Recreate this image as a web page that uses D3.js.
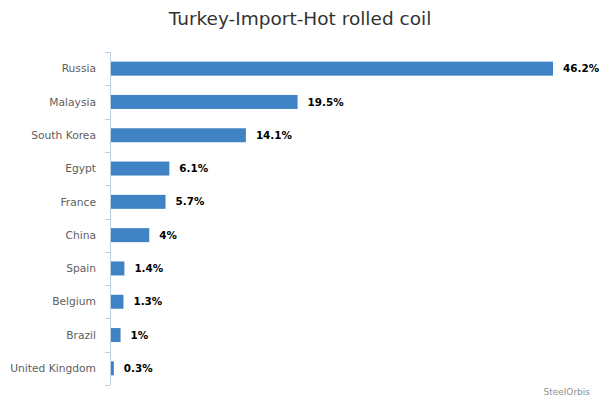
<!DOCTYPE html>
<html>
<head>
<meta charset="utf-8">
<script src="https://cdn.jsdelivr.net/npm/d3@7"></script>
<style>
  body { margin: 0; background: #fff; }
  svg { font-family: "DejaVu Sans", "Lucida Grande", Arial, sans-serif; }
</style>
</head>
<body>
<svg id="chart" width="600" height="400"></svg>
<script>
const countries = ['Russia', 'Malaysia', 'South Korea', 'Egypt', 'France', 'China', 'Spain', 'Belgium', 'Brazil', 'United Kingdom'];
const shares = [46.2, 19.5, 14.1, 6.1, 5.7, 4, 1.4, 1.3, 1, 0.3];
const labels = ['46.2%', '19.5%', '14.1%', '6.1%', '5.7%', '4%', '1.4%', '1.3%', '1%', '0.3%'];

const WIDTH = 600, HEIGHT = 400;
const MARGIN = { left: 110, right: 47, top: 52, bottom: 15 };

let svg = d3.select('#chart');

svg.append('text')
    .text('Turkey-Import-Hot rolled coil')
    .attr('x', WIDTH / 2)
    .attr('y', 25)
    .attr('text-anchor', 'middle')
    .attr('font-size', '18.5px')
    .attr('fill', '#333');

let yScale = d3.scaleBand()
    .domain(countries)
    .range([MARGIN.top, HEIGHT - MARGIN.bottom])
    .paddingInner(0.58)
    .paddingOuter(0.29);

// bars start one pixel right of the axis line
let xScale = d3.scaleLinear()
    .domain([0, 46.2])
    .range([MARGIN.left + 1, 553]);

// axis: line + ticks between categories
let yAxis = svg.append('g').attr('class', 'y-axis');
yAxis.append('line')
    .attr('x1', MARGIN.left + 0.5).attr('x2', MARGIN.left + 0.5)
    .attr('y1', MARGIN.top).attr('y2', HEIGHT - MARGIN.bottom)
    .attr('stroke', '#C0D0E0');
let bounds = d3.range(countries.length + 1).map(i => MARGIN.top + i * (HEIGHT - MARGIN.top - MARGIN.bottom) / countries.length);
yAxis.selectAll('.tick')
    .data(bounds)
    .join('line')
    .attr('class', 'tick')
    .attr('x1', MARGIN.left - 5).attr('x2', MARGIN.left)
    .attr('y1', d => Math.round(d) + 0.5).attr('y2', d => Math.round(d) + 0.5)
    .attr('stroke', '#C0D0E0');

yAxis.selectAll('.cat')
    .data(countries)
    .join('text')
    .attr('class', 'cat')
    .text(d => d)
    .attr('x', MARGIN.left - 14)
    .attr('y', d => yScale(d) + yScale.bandwidth() / 2)
    .attr('dy', '0.35em')
    .attr('text-anchor', 'end')
    .attr('font-size', '10.7px')
    .attr('fill', '#606060');

svg.append('g')
    .selectAll('rect')
    .data(shares)
    .join('rect')
    .attr('x', xScale(0))
    .attr('y', (d, i) => yScale(countries[i]))
    .attr('width', d => xScale(d) - xScale(0))
    .attr('height', yScale.bandwidth())
    .attr('fill', '#3f83c4');

svg.append('g')
    .selectAll('text')
    .data(shares)
    .join('text')
    .text((d, i) => labels[i])
    .attr('x', d => xScale(d) + 10)
    .attr('y', (d, i) => yScale(countries[i]) + yScale.bandwidth() / 2)
    .attr('dy', '0.35em')
    .attr('font-size', '10.4px')
    .attr('font-weight', 'bold')
    .attr('fill', '#000');

svg.append('text')
    .text('SteelOrbis')
    .attr('x', 590)
    .attr('y', 395)
    .attr('text-anchor', 'end')
    .attr('font-size', '9px')
    .attr('fill', '#909090');
</script>
</body>
</html>
